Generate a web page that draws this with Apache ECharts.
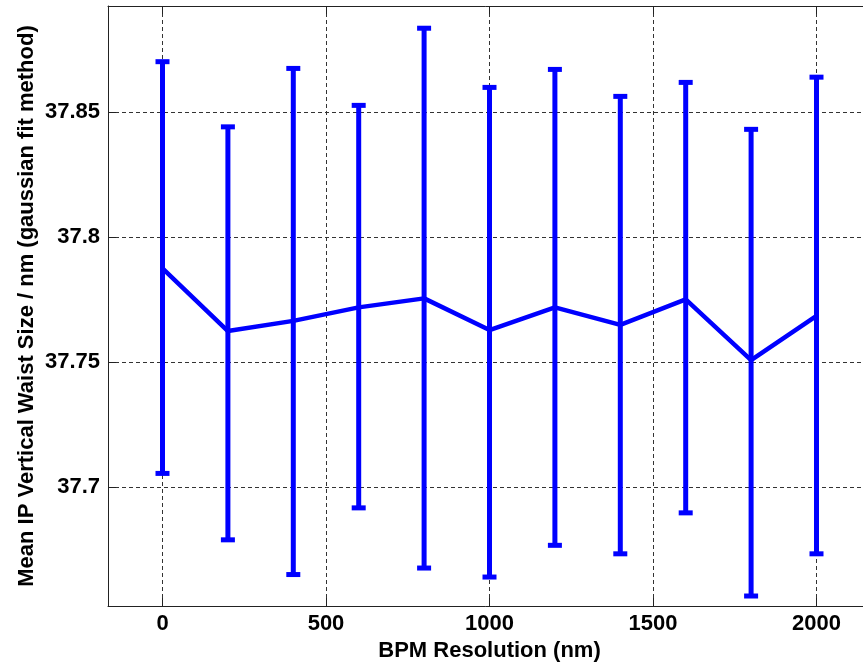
<!DOCTYPE html>
<html><head><meta charset="utf-8">
<script src="https://cdn.jsdelivr.net/npm/echarts@6/dist/echarts.min.js"></script>
<style>html,body{margin:0;padding:0;background:#fff}#c{width:863px;height:664px}</style>
</head><body><div id="c"></div>
<script>
const resolutions = [0, 200, 400, 600, 800, 1000, 1200, 1400, 1600, 1800, 2000];
const meanSize   = [37.7875, 37.7624, 37.7665, 37.7719, 37.7755, 37.7628, 37.7719, 37.7649, 37.7751, 37.7508, 37.7685];
const upperBound = [37.8703, 37.8442, 37.8676, 37.8528, 37.8837, 37.8600, 37.8672, 37.8564, 37.8620, 37.8432, 37.8641];
const lowerBound = [37.7054, 37.6788, 37.6649, 37.6916, 37.6675, 37.6639, 37.6766, 37.6732, 37.6896, 37.6563, 37.6732];
const xTicks = [0, 500, 1000, 1500, 2000];
const yTicks = [37.7, 37.75, 37.8, 37.85];
const xName = 'BPM Resolution (nm)';
const yName = 'Mean IP Vertical Waist Size / nm (gaussian fit method)';

const X_MIN = -166.67, X_MAX = 2166.67, Y_MIN = 37.6523, Y_MAX = 37.8926;
const FONT = 'Liberation Sans, Arial, sans-serif';
const txt = {color: '#000', fontSize: 22, fontWeight: 'bold', fontFamily: FONT};
const BLUE = '#0000ff';
const AX = '#222';
const plain = v => String(v);

const chart = echarts.init(document.getElementById('c'), null, {renderer: 'canvas'});
const lineData = resolutions.map((r, i) => [r, meanSize[i]]);
const errData = resolutions.map((r, i) => [r, lowerBound[i], upperBound[i]]);

chart.setOption({
  animation: false,
  backgroundColor: '#fff',
  grid: {left: 108, top: 6, bottom: 58, right: -8, outerBoundsMode: 'none', containLabel: false},
  xAxis: [{
    type: 'value', min: X_MIN, max: X_MAX, position: 'bottom',
    name: xName, nameLocation: 'middle', nameGap: 34, nameMoveOverlap: false,
    nameTextStyle: txt,
    axisLine: {show: true, onZero: false, lineStyle: {color: AX, width: 1}},
    axisTick: {show: true, inside: true, length: 8, customValues: xTicks, lineStyle: {color: AX}},
    axisLabel: Object.assign({customValues: xTicks, margin: 7, formatter: plain}, txt),
    splitLine: {show: true, lineStyle: {type: [4, 3], color: '#333', width: 1}}
  }, {
    type: 'value', min: X_MIN, max: X_MAX, position: 'top',
    axisLine: {show: true, onZero: false, lineStyle: {color: AX, width: 1}},
    axisTick: {show: true, inside: true, length: 8, customValues: xTicks, lineStyle: {color: AX}},
    axisLabel: {show: false},
    splitLine: {show: false}
  }],
  yAxis: [{
    type: 'value', min: Y_MIN, max: Y_MAX, position: 'left',
    name: yName, nameLocation: 'middle', nameGap: 70, nameMoveOverlap: false,
    nameTextStyle: txt,
    axisLine: {show: true, onZero: false, lineStyle: {color: AX, width: 1}},
    axisTick: {show: true, inside: true, length: 8, customValues: yTicks, lineStyle: {color: AX}},
    axisLabel: Object.assign({customValues: yTicks, margin: 8, formatter: plain}, txt),
    splitLine: {show: true, lineStyle: {type: [4, 3], color: '#333', width: 1}}
  }],
  series: [{
    type: 'custom',
    xAxisIndex: 0, yAxisIndex: 0,
    encode: {x: 0, y: [1, 2]},
    data: errData,
    clip: false,
    renderItem: function (params, api) {
      const x = api.value(0), lo = api.value(1), hi = api.value(2);
      const pHi = api.coord([x, hi]);
      const pLo = api.coord([x, lo]);
      const cw = 7;
      const st = {stroke: BLUE, lineWidth: 5};
      const cs = {stroke: BLUE, lineWidth: 5};
      return {type: 'group', children: [
        {type: 'line', shape: {x1: pHi[0], y1: pHi[1], x2: pLo[0], y2: pLo[1]}, style: st},
        {type: 'line', shape: {x1: pHi[0] - cw, y1: pHi[1], x2: pHi[0] + cw, y2: pHi[1]}, style: cs},
        {type: 'line', shape: {x1: pLo[0] - cw, y1: pLo[1], x2: pLo[0] + cw, y2: pLo[1]}, style: cs}
      ]};
    }
  }, {
    type: 'line',
    xAxisIndex: 0, yAxisIndex: 0,
    data: lineData,
    symbol: 'none',
    lineStyle: {color: BLUE, width: 4.5},
    itemStyle: {color: BLUE}
  }]
});
</script>
</body></html>
